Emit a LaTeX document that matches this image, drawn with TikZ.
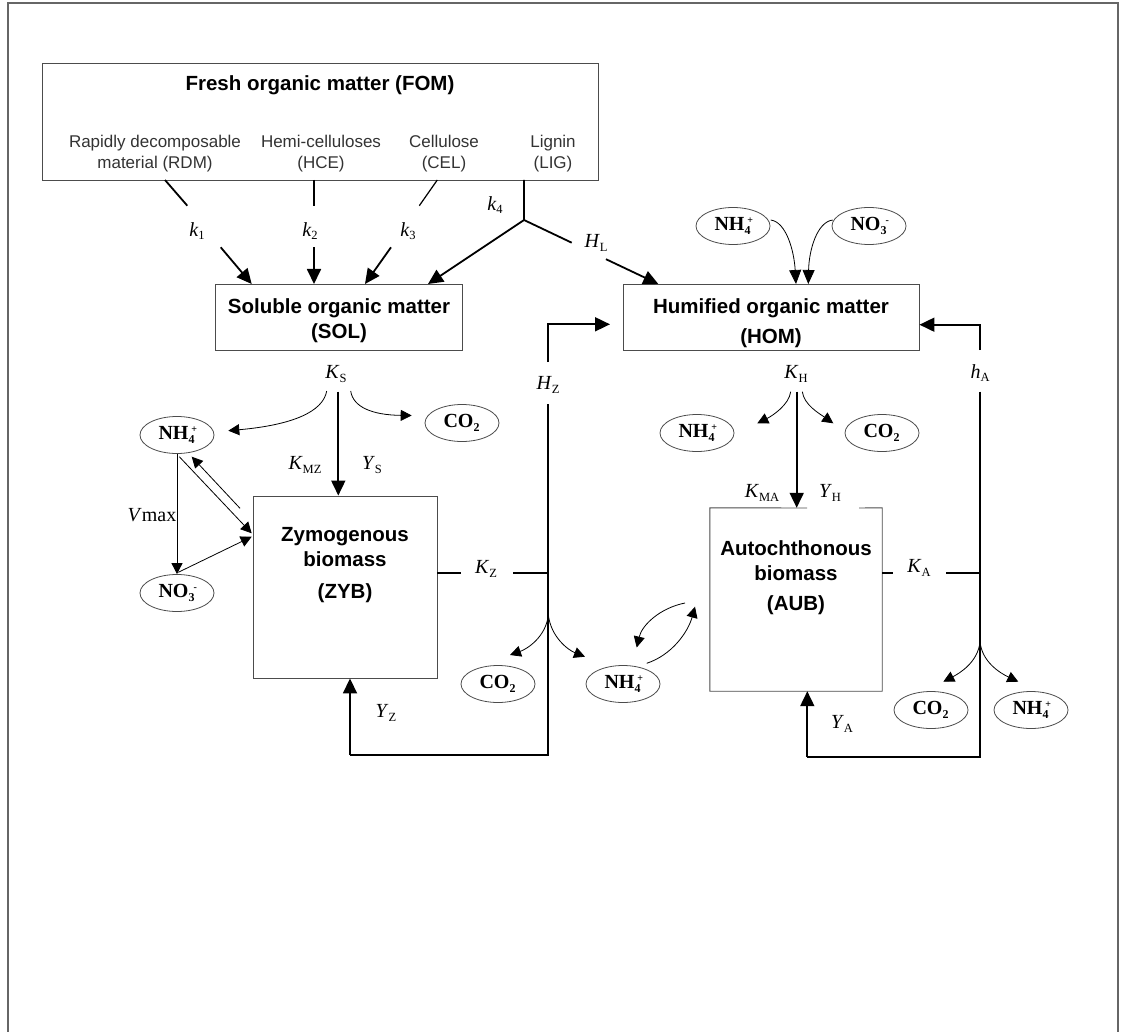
\documentclass[tikz,border=0pt]{standalone}
\usepackage{fontspec}
\setmainfont{Liberation Serif}
\setsansfont{Liberation Sans}
\usetikzlibrary{arrows.meta,shapes.geometric}
\newcommand\lab[2]{{\fontsize{20}{20}\selectfont\textit{#1}\raisebox{-3.5pt}{\fontsize{12.5}{12.5}\selectfont #2}}}
\newcommand\chem[3]{{\bfseries\fontsize{20}{20}\selectfont #1\makebox[7pt][l]{\raisebox{-4pt}{\fontsize{12}{12}\selectfont #2}}\llap{\raisebox{7.5pt}{\fontsize{10}{10}\selectfont #3}\hspace{-1.5pt}}}}
\begin{document}
\begin{tikzpicture}[x=1pt,y=-1pt,
 boxsty/.style={draw=black!70,line width=0.9pt,inner sep=0pt},
 title/.style={font=\sffamily\bfseries\fontsize{20.5}{25}\selectfont,align=center,inner sep=0pt},
 sublab/.style={font=\sffamily\fontsize{17}{21}\selectfont,text=black!80,align=center,inner sep=0pt},
 lbl/.style={inner sep=0pt},
 ell/.style={ellipse,draw=black!70,line width=0.8pt,minimum width=74pt,minimum height=37pt,inner sep=0pt},
 thk/.style={line width=1.8pt},
 thkarr/.style={line width=1.8pt,-{Triangle[length=15pt,width=14pt]}},
 thn/.style={line width=0.8pt},
 thnarr/.style={line width=0.8pt,-{Triangle[length=11pt,width=11pt]}},
 framesty/.style={draw=black!60,line width=1.2pt}]
\useasboundingbox (0,0) rectangle (1121,1032);
\draw[framesty] (8,1032) -- (8,3) -- (1118,3) -- (1118,1032);

% boxes
\node[boxsty,minimum width=556pt,minimum height=117pt] (fom) at (320,121.5) {};
\node[boxsty,minimum width=247pt,minimum height=66pt] (sol) at (338.5,317) {};
\node[boxsty,minimum width=296pt,minimum height=66pt] (hom) at (771,317) {};
\node[boxsty,minimum width=184pt,minimum height=182pt] (zyb) at (345,587) {};
\node[inner sep=0pt,minimum width=172pt,minimum height=183pt] (aub) at (796,599.5) {};
\draw[draw=black!70,line width=0.9pt] (859,508) -- (aub.north east) -- (aub.south east) -- (aub.south west) -- (aub.north west) -- (807,508);

% box texts
\node[title] (fomt) at (320,85) {Fresh organic matter (FOM)};
\node[sublab] (rdm) at (155,154) {Rapidly decomposable\\material (RDM)};
\node[sublab] (hce) at (321,154) {Hemi-celluloses\\(HCE)};
\node[sublab] (cel) at (444,154) {Cellulose\\(CEL)};
\node[sublab] (lig) at (553,154) {Lignin\\(LIG)};
\node[title] (solt) at (339,320.4) {Soluble organic matter\\(SOL)};
\node[title] (homt) at (771,322.9) {Humified organic matter\\[5pt](HOM)};
\node[title] (zybt) at (345,565) {Zymogenous\\biomass\\[7pt](ZYB)};
\node[title] (aubt) at (796,577.2) {Autochthonous\\biomass\\[5pt](AUB)};

% ellipses
\node[ell] (nh4a) at (177,435) {\chem{NH}{4}{+}};
\node[ell] (no3a) at (177,593) {\chem{NO}{3}{-}};
\node[ell] (co2a) at (462,423) {\chem{CO}{2}{}};
\node[ell] (co2b) at (498,684) {\chem{CO}{2}{}};
\node[ell] (nh4b) at (623,684) {\chem{NH}{4}{+}};
\node[ell] (nh4c) at (733,226) {\chem{NH}{4}{+}};
\node[ell] (no3c) at (869,226) {\chem{NO}{3}{-}};
\node[ell] (nh4d) at (697,433) {\chem{NH}{4}{+}};
\node[ell] (co2d) at (882,433) {\chem{CO}{2}{}};
\node[ell] (co2e) at (931,710) {\chem{CO}{2}{}};
\node[ell] (nh4e) at (1031,710) {\chem{NH}{4}{+}};

% labels
\node[lbl] (k1) at (197,231) {\lab{k}{1}};
\node[lbl] (k2) at (310,231) {\lab{k}{2}};
\node[lbl] (k3) at (408,231) {\lab{k}{3}};
\node[lbl] (k4) at (495,205) {\lab{k}{4}};
\node[lbl] (hl) at (596,243) {\lab{H}{L}};
\node[lbl] (ks) at (336,374) {\lab{K}{S}};
\node[lbl] (kmz) at (305,465) {\lab{K}{MZ}};
\node[lbl] (ys) at (372,465) {\lab{Y}{S}};
\node[lbl] (vmax) at (152,515) {{\fontsize{20}{20}\selectfont\textit{V}max}};
\node[lbl] (kz) at (486,569) {\lab{K}{Z}};
\node[lbl] (yz) at (386,713) {\lab{Y}{Z}};
\node[lbl] (hz) at (548,385) {\lab{H}{Z}};
\node[lbl] (kh) at (796,374) {\lab{K}{H}};
\node[lbl] (ha) at (980,373) {\lab{h}{A}};
\node[lbl] (kma) at (762,493) {\lab{K}{MA}};
\node[lbl] (yh) at (830,493) {\lab{Y}{H}};
\node[lbl] (ka) at (919,568) {\lab{K}{A}};
\node[lbl] (ya) at (842,724) {\lab{Y}{A}};

% coordinates
\coordinate (k1a) at (165,180);
\coordinate (k1b) at (187.3,205.7);
\coordinate (k1c) at (220.7,247.3);
\coordinate (k1d) at (251.7,284);
\coordinate (k2a) at (314,180);
\coordinate (k2b) at (314,205.7);
\coordinate (k2c) at (314,247.3);
\coordinate (k2d) at (314,284);
\coordinate (k3a) at (437.3,180);
\coordinate (k3b) at (419.3,205.7);
\coordinate (k3c) at (391,247.3);
\coordinate (k3d) at (365,284);
\coordinate (liga) at (524,180);
\coordinate (ligb) at (524,220);
\coordinate (ligs) at (428,284);
\coordinate (hla) at (571.7,242.7);
\coordinate (hlb) at (606,259.2);
\coordinate (hlc) at (658.3,284);
% SOL decomposition
\coordinate (ksa) at (338.3,391.7);
\coordinate (ksl) at (326.7,391);
\coordinate (ksr) at (350.7,391);
\coordinate (nh4tip) at (228.3,430.7);
\coordinate (co2tip) at (411.7,415.5);
% Z
\coordinate (kza) at (461,572.7);
\coordinate (kzb) at (513.3,572.7);
\coordinate (zv) at (548.3,572.7);
\coordinate (zbr) at (548.3,615);
\coordinate (zbot) at (548.3,755);
\coordinate (zbl) at (350,755);
\coordinate (hzb) at (548.3,404);
\coordinate (hzt) at (548.3,362);
\coordinate (hzc) at (548.3,324.3);
\coordinate (hztip) at (610,324.3);
\coordinate (zco2) at (510,655);
\coordinate (znh4) at (585,656.7);
% H
\coordinate (kha) at (796.7,391.7);
\coordinate (khl) at (790.7,391.7);
\coordinate (khr) at (802.3,391.7);
\coordinate (khnh4) at (757.3,423.3);
\coordinate (khco2) at (833.3,423.3);
\coordinate (nh4cs) at (770.7,220);
\coordinate (no3cs) at (832.7,220);
\coordinate (homtipa) at (796,284);
\coordinate (homtipb) at (808.3,284);
% A
\coordinate (kaa) at (893.3,572.7);
\coordinate (kab) at (946,572.7);
\coordinate (av) at (980,572.7);
\coordinate (abr) at (980,641.7);
\coordinate (abot) at (980,756.7);
\coordinate (abl) at (807.3,756.7);
\coordinate (hab) at (980,391.7);
\coordinate (hat) at (980,350);
\coordinate (hac) at (980,324.7);
\coordinate (aco2) at (943.3,681.7);
\coordinate (anh4) at (1018.3,681.7);
% N exchange
\coordinate (auba) at (685,603);
\coordinate (nh4btip) at (636.7,647.5);
\coordinate (nh4bs) at (646.7,663.3);
\coordinate (aubtip) at (695,606.7);
\coordinate (zyba) at (251.7,533.3);
\coordinate (zybb) at (240,508.3);
\coordinate (nh4atip) at (191.7,456.7);
\coordinate (nh4as) at (179.3,456.7);
\coordinate (no3as) at (178.3,572.3);
\coordinate (zybc) at (251.7,536.7);

% FOM -> SOL
\draw[thk] (k1a) -- (k1b);
\draw[thkarr] (k1c) -- (k1d);
\draw[thk] (k2a) -- (k2b);
\draw[thkarr] (k2c) -- (k2d);
\draw[thk,line width=1.2pt] (k3a) -- (k3b);
\draw[thkarr] (k3c) -- (k3d);
\draw[thk,line join=miter] (liga) -- (ligb) -- (hla);
\draw[thkarr] (ligb) -- (ligs);
\draw[thkarr] (hlb) -- (hlc);
\draw[thn,-{Triangle[length=14pt,width=12pt]}] (nh4cs) .. controls (786,222) and (794,250) .. (homtipa);
\draw[thn,-{Triangle[length=14pt,width=12pt]}] (no3cs) .. controls (817,222) and (809,250) .. (homtipb);

% SOL -> ZYB
\draw[thkarr] (ksa) -- (zyb.north -| ksa);
\draw[thnarr] (ksl) .. controls (323,412) and (292,425) .. (nh4tip);
\draw[thnarr] (ksr) .. controls (353,407) and (372,415) .. (co2tip);

% N links left
\draw[thnarr] (nh4a.south) -- (no3a.north);
\draw[thnarr] (nh4as) -- (zyba);
\draw[thnarr] (zybb) -- (nh4atip);
\draw[thnarr] (no3as) -- (zybc);

% ZYB outputs
\draw[thk] (zyb.east |- kza) -- (kza);
\draw[thk] (kzb) -- (zv);
\draw[thk] (hzb) -- (zbot) -- (zbl);
\draw[thkarr] (zbl) -- (zbl |- zyb.south);
\draw[thkarr,line join=miter] (hzt) -- (hzc) -- (hztip);
\draw[thnarr] (zbr) .. controls (546,637) and (527,649) .. (zco2);
\draw[thnarr] (zbr) .. controls (551,637) and (568,650) .. (znh4);

% exchange NH4 - AUB
\draw[thnarr] (auba) .. controls (660,608) and (642,625) .. (nh4btip);
\draw[thnarr] (nh4bs) .. controls (672,655) and (688,632) .. (aubtip);

% HOM -> AUB
\draw[thkarr] (kha) -- (kha |- aub.north);
\draw[thnarr] (khl) .. controls (789,405) and (772,416) .. (khnh4);
\draw[thnarr] (khr) .. controls (804,405) and (820,414) .. (khco2);

% AUB outputs
\draw[thk] (aub.east |- kaa) -- (kaa);
\draw[thk] (kab) -- (av);
\draw[thk] (hab) -- (abot) -- (abl);
\draw[thkarr] (abl) -- (abl |- aub.south);
\draw[thkarr,line join=miter] (hat) -- (hac) -- (hom.east |- hac);
\draw[thnarr] (abr) .. controls (978,662) and (960,673) .. (aco2);
\draw[thnarr] (abr) .. controls (982,662) and (1000,673) .. (anh4);
\end{tikzpicture}
\end{document}
